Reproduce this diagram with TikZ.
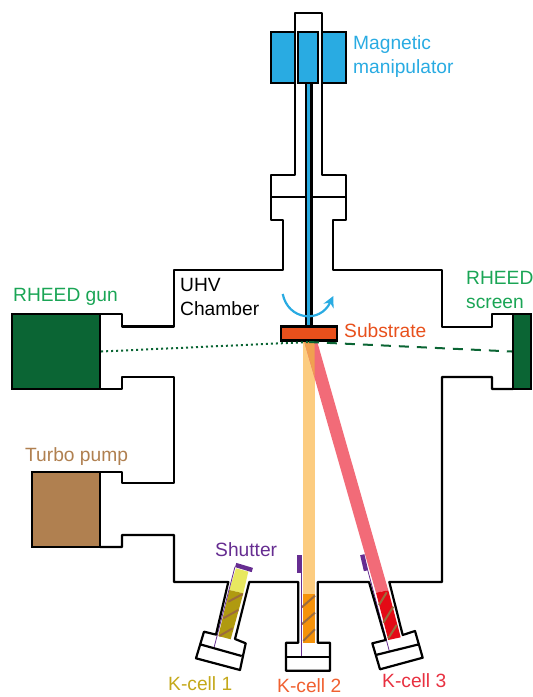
\documentclass[tikz,border=0pt]{standalone}
\usepackage{fontspec}
\setmainfont{Liberation Sans}
\usetikzlibrary{arrows.meta,positioning}
\definecolor{magblue}{HTML}{29ABE2}
\definecolor{gundark}{HTML}{0B6534}
\definecolor{gunlabel}{HTML}{1AA555}
\definecolor{subst}{HTML}{E8501C}
\definecolor{pumpbrown}{HTML}{B08050}
\definecolor{shutpurple}{HTML}{662D91}
\definecolor{wire}{HTML}{9C6B3C}
\definecolor{beamtwo}{HTML}{FCCC80}
\definecolor{beamthree}{HTML}{F26B78}
\definecolor{beammix}{HTML}{F0A050}
\definecolor{loadone}{HTML}{E8E860}
\definecolor{cellone}{HTML}{B09A10}
\definecolor{celltwo}{HTML}{F5920A}
\definecolor{cellthree}{HTML}{E40A16}

\begin{document}
\begin{tikzpicture}[
    x=1pt, y=-1pt,
    wall/.style={draw=black, line width=2.2pt, line join=round},
    block/.style={draw=black, line width=2.2pt, rectangle, inner sep=0pt},
    label/.style={anchor=west, inner sep=0pt, align=left, font=\fontsize{19.2}{24}\selectfont},
    coil/.style={line width=2pt, color=wire},
    shutter/.style={line width=4.4pt, color=shutpurple},
    shaft/.style={line width=0.8pt, color=shutpurple}
]
\useasboundingbox (0,0) rectangle (533,697);

% Beams
\fill[fill=beamtwo] (302.5,341) rectangle (314.5,594);
\fill[fill=beamthree] (304,341) -- (317,341) -- (388.3,590.3) -- (376,592.7) -- cycle;
\fill[fill=beammix] (304,341) -- (314.5,341) -- (314.5,377) -- cycle;

% K-cell 1
\fill[fill=loadone] (236,568.3) -- (248.3,571.7) -- (243.3,593.3) -- (229.3,590) -- cycle;
\fill[fill=cellone] (229.3,590) -- (243.3,593.3) -- (230.7,639.3) -- (218.3,636) -- cycle;
\draw[coil] (228.3,601.7) -- (242.7,594);
\draw[coil] (223.3,618.3) -- (238.3,610);
\draw[coil] (219.3,636) -- (232.7,628.3);
\draw[shaft] (235,566.7) -- (214,647.7);
\draw[shutter] (235.7,565) -- (252.3,570);

% K-cell 2
\fill[fill=celltwo] (302.5,594) rectangle (314.5,642.7);
\draw[coil] (301.7,607.3) -- (315,595.7);
\draw[coil] (301.7,624.3) -- (315,612.7);
\draw[coil] (303.3,641) -- (315,629.3);
\draw[shaft] (301,571) -- (301,656);
\draw[shutter] (299.5,555) -- (299.5,572.5);

% K-cell 3
\fill[fill=cellthree] (376,592.7) -- (388.3,590.3) -- (400.7,637.3) -- (388.3,640) -- cycle;
\draw[coil] (379,605) -- (386.7,592.3);
\draw[coil] (383.3,622.7) -- (393.3,606.7);
\draw[coil] (388.3,638.3) -- (396.7,625);
\draw[shaft] (367.7,570) -- (389.3,651);
\draw[shutter] (362.3,554.7) -- (366,570.7);

% Chamber outline
\draw[wall] (100,314) -- (122,314) -- (122,326.5) -- (174,326.5) -- (174,270) -- (283,270) -- (283,220) -- (271,220)
    -- (271,175) -- (295,175) -- (295,13) -- (322,13) -- (322,175) -- (346,175) -- (346,220) -- (333,220) -- (333,270)
    -- (442,270) -- (442,327) -- (492,327) -- (492,314) -- (513,314);
\draw[wall] (513,389) -- (492,389) -- (492,377) -- (442,377) -- (442,582) -- (389.3,582) -- (402.7,635) -- (415,631)
    -- (422.7,657.7) -- (380,669.3) -- (372.3,643.3) -- (385.7,640) -- (369,582) -- (317.7,582) -- (317.7,642.7) -- (330,642.7)
    -- (330,670.7) -- (286,670.7) -- (286,642.7) -- (298.3,642.7) -- (298.3,582) -- (249.3,582) -- (235,639) -- (245.7,643.3)
    -- (240,670) -- (196,658.3) -- (204,631.7) -- (216,634.6) -- (228.3,582) -- (174,582) -- (174,535) -- (122,535)
    -- (122,547) -- (100,547);
\draw[wall] (100,389) -- (122,389) -- (122,377) -- (174,377) -- (174,483) -- (122,483) -- (122,472) -- (100,472);
\draw[wall] (200,644.3) -- (241.7,656);
\draw[wall] (286,656.7) -- (330,656.7);
\draw[wall] (375.7,655) -- (419,644.3);
\draw[wall, line width=2.6pt] (271,197) -- (346,197);

% Boxes
\node[block, fill=gundark, minimum width=88pt, minimum height=75pt] (gun) at (56,351.5) {};
\node[block, fill=gundark, minimum width=18pt, minimum height=75pt] (screen) at (522,351.5) {};
\node[block, fill=pumpbrown, minimum width=68pt, minimum height=75pt] (pump) at (66,509.5) {};
\node[block, fill=magblue, minimum width=24pt, minimum height=51pt] (magleft) at (283,57.5) {};
\node[block, fill=magblue, minimum width=20pt, minimum height=51pt] (magmid) at (308,57.5) {};
\node[block, fill=magblue, minimum width=24pt, minimum height=51pt] (magright) at (334,57.5) {};
\node[block, fill=magblue, minimum width=5.4pt, minimum height=243pt, line width=2.1pt] (rod) at (308.8,204.5) {};
\node[block, fill=subst, minimum width=56.5pt, minimum height=14pt] (substrate) at (309,333.5) {};

% RHEED beam
\coordinate (spot) at (309,342);
\draw[color=gundark, line width=2pt, dash pattern=on 2pt off 3pt] (gun.east) -- (spot);
\draw[color=gundark, line width=2pt, dash pattern=on 10pt off 8pt] (spot) -- (screen.west);

% Rotation
\draw[color=magblue, line width=2.2pt, -{Stealth[length=11pt,width=11pt]}] (282.7,294) .. controls (288,320) and (320,324) .. (333.3,296);

% Labels
\node[label, text=magblue] (maglabel) at (353,57) {Magnetic\\manipulator};
\node[label, text=gunlabel] (gunlabel) at (13,297) {RHEED gun};
\node[label, text=black] (uhvlabel) at (180,297) {UHV\\Chamber};
\node[label, text=gunlabel] (screenlabel) at (466,290) {RHEED\\screen};
\node[label, text=subst] (substlabel) at (344,331) {Substrate};
\node[label, text=pumpbrown] (pumplabel) at (25,457) {Turbo pump};
\node[label, text=shutpurple] (shutlabel) at (215,550) {Shutter};
\node[label, text={rgb,255:red,196;green,168;blue,26}] (cell1) at (168,684) {K-cell 1};
\node[label, text={rgb,255:red,240;green,96;blue,48}] (cell2) at (277,686) {K-cell 2};
\node[label, text={rgb,255:red,232;green,48;blue,64}] (cell3) at (382,681) {K-cell 3};

\end{tikzpicture}
\end{document}
